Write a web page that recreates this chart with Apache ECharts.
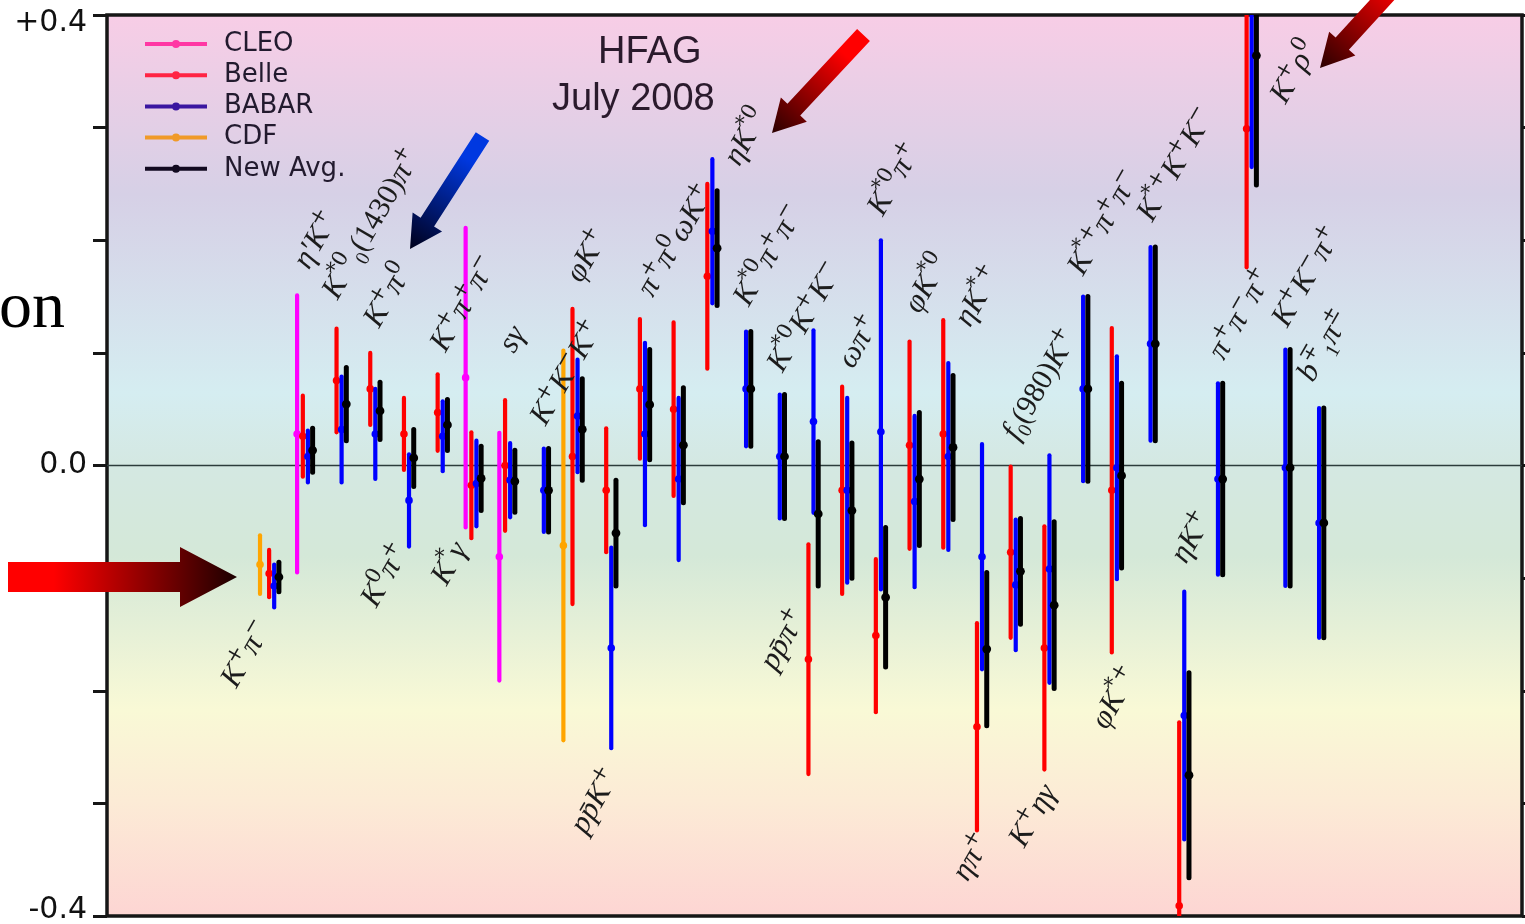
<!DOCTYPE html>
<html>
<head>
<meta charset="utf-8">
<script src="https://cdn.jsdelivr.net/npm/echarts/dist/echarts.min.js"></script>
<style>
  html, body { margin: 0; padding: 0; background: #ffffff; }
  #chart { width: 1525px; height: 924px; }
</style>
</head>
<body>
<div id="chart"></div>
<script>
// Decay modes, in plotting order (rich-text markup: u = superscript, d = subscript, r = upright)
const decayLabels = [
  'K{u|+}π{u|−}', 'η′K{u|+}', 'K{u|*0}{d|0}{r|(1430)}π{u|+}', 'K{u|+}π{u|0}', 'K{u|0}π{u|+}',
  'K{u|+}π{u|+}π{u|−}', 'K{u|*}γ', 'sγ', 'K{u|+}K{u|−}K{u|+}', 'φK{u|+}',
  'pp\u0304K{u|+}', 'π{u|+}π{u|0}', 'ωK{u|+}', 'ηK{u|*0}', 'K{u|*0}π{u|+}π{u|−}',
  'K{u|*0}K{u|+}K{u|−}', 'pp\u0304π{u|+}', 'ωπ{u|+}', 'K{u|*0}π{u|+}', 'φK{u|*0}',
  'ηK{u|*+}', 'ηπ{u|+}', 'f{d|0}{r|(980)}K{u|+}', 'K{u|+}ηγ', 'K{u|*+}π{u|+}π{u|−}',
  'φK{u|*+}', 'K{u|*+}K{u|+}K{u|−}', 'ηK{u|+}', 'π{u|+}π{u|−}π{u|+}', 'K{u|+}ρ{u|0}',
  'K{u|+}K{u|−}π{u|+}', 'b{u|∓}{d|1}π{u|±}'
];

// A_CP measurements: [value, error] or [value, error below, error above]; null = no measurement
const cdf = [
  [-0.088, 0.026], null, null, null, null, null, null, null, null, [-0.071, 0.173],
  null, null, null, null, null, null, null, null, null, null,
  null, null, null, null, null, null, null, null, null, null, null, null
];
const cleo = [
  null, [0.028, 0.123], null, null, null, null, [0.078, 0.133], [-0.081, 0.110], null, null,
  null, null, null, null, null, null, null, null, null, null,
  null, null, null, null, null, null, null, null, null, null, null, null
];
const belle = [
  [-0.096, 0.021], [0.026, 0.036], [0.0755, 0.046], [0.068, 0.032], [0.028, 0.032],
  [0.047, 0.034], [-0.0175, 0.047], [0.000, 0.058], null, [0.008, 0.131],
  [-0.022, 0.055], [0.068, 0.062], [0.050, 0.077], [0.168, 0.082], null,
  null, [-0.172, 0.102], [-0.022, 0.092], [-0.151, 0.068], [0.018, 0.092],
  [0.028, 0.101], [-0.232, 0.092], [-0.077, 0.076], [-0.162, 0.108], null,
  [-0.022, 0.144], null, [-0.391, 0.163], null, [0.299, 0.123],
  null, null
];
const babar = [
  [-0.107, 0.019], [0.008, 0.023], [0.032, 0.047], [0.028, 0.040], [-0.031, 0.041],
  [0.026, 0.031], [-0.016, 0.038], [-0.013, 0.033], [-0.022, 0.037], [0.044, 0.050],
  [-0.162, 0.089], [0.028, 0.081], [-0.012, 0.072], [0.208, 0.064], [0.068, 0.051],
  [0.008, 0.055], [0.039, 0.081], [-0.022, 0.082], [0.030, 0.140, 0.170], [-0.032, 0.076],
  [0.008, 0.083], [-0.081, 0.100], [-0.106, 0.058], [-0.092, 0.101], [0.068, 0.082],
  [-0.002, 0.099], [0.108, 0.086], [-0.222, 0.110], [-0.012, 0.085], [0.440, 0.175, 0.110],
  [-0.002, 0.105], [-0.051, 0.102]
];
const newAvg = [
  [-0.099, 0.013], [0.0135, 0.0195], [0.0545, 0.0325], [0.0485, 0.0255], [0.0067, 0.0253],
  [0.036, 0.0227], [-0.0115, 0.0285], [-0.014, 0.0276], [-0.022, 0.037], [0.032, 0.045],
  [-0.060, 0.047], [0.054, 0.049], [0.018, 0.051], [0.193, 0.051], [0.068, 0.051],
  [0.008, 0.055], [-0.043, 0.064], [-0.040, 0.060], [-0.117, 0.062], [-0.012, 0.059],
  [0.016, 0.064], [-0.163, 0.068], [-0.094, 0.047], [-0.124, 0.074], [0.068, 0.082],
  [-0.009, 0.082], [0.108, 0.086], [-0.275, 0.091], [-0.012, 0.085], [0.364, 0.115],
  [-0.002, 0.105], [-0.051, 0.102]
];

const yTickLabels = { '0.4': '+0.4', '0': '0.0', '-0.4': '-0.4' };

// Label placement: side of the error bars and a pixel nudge for each mode's name
const labelPlacement = [
  ['down', -14, 16], ['up', -11, -29], ['up', -16, -32], ['up', -8, -28], ['down', -11, 0],
  ['up', -9, -25], ['down', -20, 7], ['up', -8, -50], ['up', -10, -26], ['up', -8, -29],
  ['down', -3, 23], ['up', -4, -25], ['up', -6, -83], ['up', 15, 4], ['up', -9, -28],
  ['up', -9, -25], ['down', -18, -162], ['up', -6, -21], ['up', -10, -27], ['up', -7, -31],
  ['up', 10, 4], ['down', -2, 6], ['up', -10, -29], ['down', -4, 18], ['up', -12, -24],
  ['down', 11, 17], ['up', -10, -28], ['up', -10, -31], ['up', -6, -26], ['up', 22, 86],
  ['up', -10, -25], ['up', -18, -29]
];

const Y_MIN = -0.4, Y_MAX = 0.4;
const X_MIN = -5.1, X_MAX = 36.88;

// experiment drawing styles: horizontal offset within a mode group (in group units)
const experiments = [
  { name: 'CDF',      data: cdf,    offset: -0.56, color: '#ffa500', legend: '#f09a28', width: 4.2, r: 3.8 },
  { name: 'CLEO',     data: cleo,   offset: -0.46, color: '#ff00ff', legend: '#ff37a4', width: 4.2, r: 3.8 },
  { name: 'Belle',    data: belle,  offset: -0.29, color: '#ff0000', legend: '#ff2444', width: 4.2, r: 3.8 },
  { name: 'BABAR',    data: babar,  offset: -0.14, color: '#0000ff', legend: '#3a16a0', width: 4.2, r: 3.8 },
  { name: 'New Avg.', data: newAvg, offset: 0,     color: '#000000', legend: '#120a20', width: 5, r: 4.4 }
];

function toItems(arr) {
  const out = [];
  arr.forEach((m, i) => {
    if (!m) return;
    const lo = m[1], hi = m.length > 2 ? m[2] : m[1];
    out.push([i, m[0], lo, hi]);
  });
  return out;
}

function errorBarRenderer(exp) {
  return function (params, api) {
    const x = api.value(0) + exp.offset;
    const v = api.value(1);
    const pLo = api.coord([x, v - api.value(2)]);
    const pHi = api.coord([x, v + api.value(3)]);
    const pc = api.coord([x, v]);
    return {
      type: 'group',
      children: [
        { type: 'line', shape: { x1: pLo[0], y1: pLo[1], x2: pHi[0], y2: pHi[1] },
          style: { stroke: exp.color, lineWidth: exp.width, lineCap: 'round' } },
        { type: 'circle', shape: { cx: pc[0], cy: pc[1], r: exp.r },
          style: { fill: exp.color } }
      ]
    };
  };
}

// extreme ends of all error bars of a mode (clipped to the axis range)
function groupExtent(i) {
  let top = -Infinity, bottom = Infinity;
  [cdf, cleo, belle, babar, newAvg].forEach(arr => {
    const m = arr[i];
    if (!m) return;
    const lo = m[1], hi = m.length > 2 ? m[2] : m[1];
    top = Math.max(top, m[0] + hi);
    bottom = Math.min(bottom, m[0] - lo);
  });
  return [Math.min(top, Y_MAX), Math.max(bottom, Y_MIN)];
}

const labelRich = {
  u: { font: "21px 'DejaVu Serif'", verticalAlign: 'top', lineHeight: 40 },
  d: { font: "20px 'Liberation Serif'", verticalAlign: 'bottom', lineHeight: 40 },
  r: { font: "30px 'Liberation Serif'", lineHeight: 40 }
};

function labelRenderer(params, api) {
  const i = api.value(0);
  const ext = groupExtent(i);
  const place = labelPlacement[i];
  const up = place[0] === 'up';
  const p = api.coord([i, up ? ext[0] : ext[1]]);
  return {
    type: 'text',
    x: p[0] + place[1],
    y: p[1] + place[2],
    rotation: Math.PI / 3,
    style: {
      text: decayLabels[i],
      font: "italic 31px 'Liberation Serif'",
      lineHeight: 40,
      fill: '#1c1c1c',
      align: up ? 'left' : 'right',
      verticalAlign: 'middle',
      rich: labelRich
    }
  };
}

function arrowPoints(tail, tip, shaftW, headW, headL) {
  const dx = tip[0] - tail[0], dy = tip[1] - tail[1];
  const len = Math.hypot(dx, dy);
  const ux = dx / len, uy = dy / len, nx = -uy, ny = ux;
  const bx = tip[0] - ux * headL, by = tip[1] - uy * headL;
  const s = shaftW / 2, h = headW / 2;
  return [
    [tail[0] + nx * s, tail[1] + ny * s], [bx + nx * s, by + ny * s], [bx + nx * h, by + ny * h],
    [tip[0], tip[1]],
    [bx - nx * h, by - ny * h], [bx - nx * s, by - ny * s], [tail[0] - nx * s, tail[1] - ny * s]
  ];
}

function arrow(tail, tip, shaftW, headW, headL, c0, c1) {
  return {
    type: 'polygon',
    z: 100,
    silent: true,
    shape: { points: arrowPoints(tail, tip, shaftW, headW, headL) },
    style: {
      fill: {
        type: 'linear', global: true,
        x: tail[0], y: tail[1], x2: tip[0], y2: tip[1],
        colorStops: [{ offset: 0, color: c0 }, { offset: 0.2, color: c0 }, { offset: 1, color: c1 }]
      }
    }
  };
}

const chart = echarts.init(document.getElementById('chart'), null, { renderer: 'canvas' });

const series = [
  {
    type: 'line', name: 'zero', silent: true, symbol: 'none', z: 1,
    data: [[X_MIN, 0], [X_MAX, 0]],
    lineStyle: { color: '#2c3c3c', width: 1.5 }
  }
];
experiments.forEach(exp => {
  series.push({
    type: 'custom', name: exp.name, clip: true, z: 2,
    itemStyle: { color: exp.color },
    renderItem: errorBarRenderer(exp),
    encode: { x: 0, y: 1 },
    data: toItems(exp.data)
  });
});
series.push({
  type: 'custom', name: 'labels', silent: true, z: 3,
  renderItem: labelRenderer,
  encode: { x: 0 },
  data: decayLabels.map((_, i) => [i])
});

const legendOrder = ['CLEO', 'Belle', 'BABAR', 'CDF', 'New Avg.'];

const yAxisCommon = {
  type: 'value', min: Y_MIN, max: Y_MAX, interval: 0.1,
  axisLine: { show: false, onZero: false },
  splitLine: { show: false }
};

chart.setOption({
  animation: false,
  backgroundColor: '#ffffff',
  title: [
    { text: 'HFAG', left: 598, top: 34, padding: 0,
      textStyle: { fontFamily: 'Liberation Sans', fontSize: 38, fontWeight: 'normal', color: '#2a1a2c' } },
    { text: 'July 2008', left: 552, top: 81, padding: 0,
      textStyle: { fontFamily: 'Liberation Sans', fontSize: 38, fontWeight: 'normal', color: '#2a1a2c' } }
  ],
  legend: {
    orient: 'vertical', left: 145, top: 31, padding: 0,
    itemWidth: 62, itemHeight: 8, itemGap: 5.2,
    icon: 'path://M0,2H62V6H0Z M31,0A4,4 0 1 1 31,8A4,4 0 1 1 31,0Z',
    selectedMode: false,
    textStyle: { fontFamily: 'DejaVu Sans', fontSize: 26, lineHeight: 25, color: '#221a2e', padding: [0, 0, 0, 12] },
    data: legendOrder.map(n => {
      const exp = experiments.find(e => e.name === n);
      return { name: n, itemStyle: { color: exp.legend } };
    })
  },
  grid: {
    left: 107, right: 3, top: 15, bottom: 8,
    containLabel: false, outerBoundsMode: 'none',
    show: true, borderColor: '#161616', borderWidth: 3.5,
    backgroundColor: {
      type: 'linear', x: 0, y: 0, x2: 0, y2: 1,
      colorStops: [
        { offset: 0.00, color: '#f8cde6' },
        { offset: 0.20, color: '#d6d0e6' },
        { offset: 0.42, color: '#d5edf1' },
        { offset: 0.50, color: '#d4e8e2' },
        { offset: 0.60, color: '#d4e8d8' },
        { offset: 0.77, color: '#f9f9d6' },
        { offset: 0.87, color: '#fcebd6' },
        { offset: 1.00, color: '#fdd5d3' }
      ]
    }
  },
  xAxis: { type: 'value', min: X_MIN, max: X_MAX, show: false },
  yAxis: [
    Object.assign({}, yAxisCommon, {
      position: 'left',
      axisTick: { show: true, inside: false, length: 14, lineStyle: { color: '#161616', width: 3 } },
      axisLabel: {
        margin: 20, fontFamily: 'DejaVu Sans', fontSize: 30, color: '#111111',
        formatter: v => {
          const key = String(Math.round(v * 10) / 10);
          const t = yTickLabels[key] || '';
          if (t === '+0.4') return '{t|' + t + '}';
          if (t === '-0.4') return '{b|' + t + '}';
          return t;
        },
        rich: { t: { padding: [16, 0, 0, 0] }, b: { padding: [0, 0, 12, 0] } }
      }
    }),
    Object.assign({}, yAxisCommon, {
      position: 'right',
      axisTick: { show: true, inside: false, length: 8, lineStyle: { color: '#161616', width: 3 } },
      axisLabel: { show: false }
    })
  ],
  graphic: [
    { type: 'text', x: 65, y: 277, silent: true,
      style: { text: 'on', font: "66px 'Liberation Serif'", fill: '#000000', align: 'right', verticalAlign: 'top' } },
    arrow([8, 577], [237, 577], 30, 60, 57, '#ff0000', '#1c0000'),
    arrow([482.5, 136.5], [410, 249], 16, 35, 32, '#0038e0', '#00001a'),
    arrow([863.5, 35], [772, 133], 17.5, 35.5, 32, '#ff0000', '#2a0000'),
    arrow([1415, -36], [1320, 68], 18, 35.5, 33, '#ff0000', '#2a0000')
  ],
  series: series
});
</script>
</body>
</html>
